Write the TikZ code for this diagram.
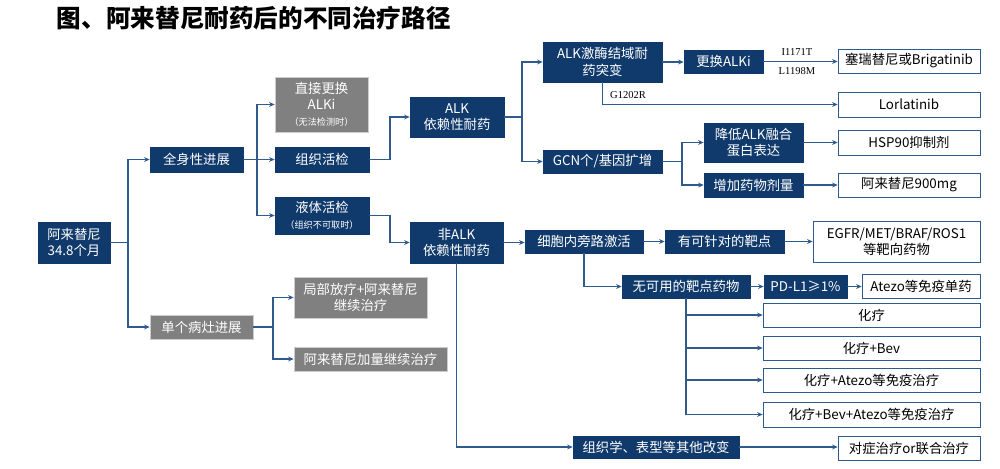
\documentclass[tikz,border=0pt]{standalone}
\usepackage{fontspec}
\setmainfont{Noto Sans CJK SC}
\newfontfamily\latinserif{Liberation Serif}
\usepackage{tikz}
\usetikzlibrary{positioning, arrows.meta, calc}
\usepackage{xcolor}
\definecolor{navy}{RGB}{16,58,107}
\definecolor{linkblue}{RGB}{46,90,140}
\definecolor{boxgrey}{RGB}{128,128,128}

\begin{document}
\begin{tikzpicture}[
    x=0.025cm, y=-0.025cm,
    wh/.style 2 args = {minimum width=#1*0.025cm, minimum height=#2*0.025cm},
    darkbox/.style   = {rectangle, draw=navy, fill=navy, text=white, align=center, inner sep=1pt,
                        font=\fontsize{9.5}{11.5}\selectfont},
    greybox/.style   = {rectangle, draw=black!20, fill=boxgrey, text=white, align=center, inner sep=1pt,
                        font=\fontsize{9.5}{11.5}\selectfont},
    outbox/.style    = {rectangle, draw=linkblue, fill=white, text=black, align=center, inner sep=1pt,
                        font=\fontsize{9.5}{11.5}\selectfont},
    mut/.style       = {inner sep=0pt, font=\latinserif\fontsize{7.5}{8}\selectfont},
    arrow/.style     = {-{Stealth[length=1.4mm, width=1.2mm]}, draw=linkblue, line width=0.9pt}
]
\useasboundingbox (0,0) rectangle (1000,468);
\node[anchor=west, font=\fontsize{17.5}{20}\selectfont\bfseries] (title) at (52,18) {图、阿来替尼耐药后的不同治疗路径};

% first levels
\node[darkbox, wh={72}{41}]  (root) at (74,242.5)   {阿来替尼\\34.8个月};
\node[darkbox, wh={93}{25}]  (qsx)  at (196.5,159.5) {全身性进展};
\node[greybox, wh={103}{24}] (dgjz) at (201.5,327)   {单个病灶进展};
\node[greybox, wh={93}{55}]  (zjgh) at (321.5,104.5) {直接更换\\ALKi\\{\fontsize{6.5}{8}\selectfont（无法检测时）}};
\node[darkbox, wh={94}{25}]  (zzhj) at (322,159.5)   {组织活检};
\node[darkbox, wh={94}{37}]  (ythj) at (322,215.5)   {液体活检\\{\fontsize{6.5}{8}\selectfont（组织不可取时）}};
\node[greybox, wh={133}{41}] (jbfl) at (360.5,297.5) {局部放疗+阿来替尼\\继续治疗};
\node[greybox, wh={153}{24}] (alzl) at (370.5,359)   {阿来替尼加量继续治疗};
\node[darkbox, wh={94}{40}]  (alk)  at (457,117)     {ALK\\依赖性耐药};
\node[darkbox, wh={93}{41}]  (nalk) at (456.5,242.5) {非ALK\\依赖性耐药};

% ALK dependent
\node[darkbox, wh={119}{40}] (jmtb)   at (602.5,62)   {ALK激酶结域耐\\药突变};
\node[darkbox, wh={79}{23}]  (ghalki) at (723.5,61.5) {更换ALKi};
\node[outbox, wh={142}{24}]  (srtn)   at (909,61)     {塞瑞替尼或Brigatinib};
\node[outbox, wh={142}{25}]  (lorl)   at (909,104.5)  {Lorlatinib};
\node[darkbox, wh={119}{23}] (gcn)    at (602.5,161.5) {GCN个/基因扩增};
\node[darkbox, wh={99}{39}]  (jdalk)  at (753.5,142.5) {降低ALK融合\\蛋白表达};
\node[darkbox, wh={99}{24}]  (zjyw)   at (753.5,185)  {增加药物剂量};
\node[outbox, wh={142}{25}]  (hsp)    at (909,142.5)  {HSP90抑制剂};
\node[outbox, wh={142}{24}]  (al900)  at (909,185)    {阿来替尼900mg};

% non ALK dependent
\node[darkbox, wh={118}{23}] (xbn)     at (584,241.5)   {细胞内旁路激活};
\node[darkbox, wh={119}{23}] (ykzd)    at (724.5,241.5) {有可针对的靶点};
\node[outbox, wh={167}{41}]  (egfr)    at (896.5,241.5) {EGFR/MET/BRAF/ROS1\\等靶向药物};
\node[darkbox, wh={128}{23}] (wky)     at (686,286.5)   {无可用的靶点药物};
\node[darkbox, wh={83}{23}]  (pdl1)    at (805.5,286.5) {PD-L1≥1\%};
\node[outbox, wh={118}{24}]  (atezo)   at (921,286)     {Atezo等免疫单药};
\node[outbox, wh={217}{24}]  (hl)      at (871.5,315)   {化疗};
\node[outbox, wh={217}{24}]  (hlbev)   at (871.5,348)   {化疗+Bev};
\node[outbox, wh={217}{24}]  (hlatezo) at (871.5,380)   {化疗+Atezo等免疫治疗};
\node[outbox, wh={217}{25}]  (hlba)    at (871.5,414.5) {化疗+Bev+Atezo等免疫治疗};
\node[darkbox, wh={166}{22}] (zzx)     at (656,447)     {组织学、表型等其他改变};
\node[outbox, wh={142}{24}]  (dzzl)    at (909,448)     {对症治疗or联合治疗};

% mutation labels
\node[mut] (i1171) at (797,52)  {I1171T};
\node[mut] (l1198) at (797,71)  {L1198M};
\node[mut] (g1202) at (628,95)  {G1202R};

% junctions
\coordinate (j1) at (128,0);
\coordinate (j2) at (257,0);
\coordinate (j3) at (390,0);
\coordinate (j4) at (273,0);
\coordinate (j5) at (522,0);
\coordinate (j7) at (682,0);

\foreach \a/\j/\b in {root/j1/qsx, root/j1/dgjz, qsx/j2/zjgh, qsx/j2/zzhj, qsx/j2/ythj,
                      zzhj/j3/alk, ythj/j3/nalk, dgjz/j4/jbfl, dgjz/j4/alzl,
                      alk/j5/jmtb, alk/j5/gcn, gcn/j7/jdalk, gcn/j7/zjyw}
  \draw[arrow] (\a.east) -- (\a.east -| \j) |- (\b.west);
\foreach \a/\b in {jmtb/ghalki, ghalki/srtn, jdalk/hsp, zjyw/al900, nalk/xbn,
                   xbn/ykzd, ykzd/egfr, wky/pdl1, pdl1/atezo, zzx/dzzl}
  \draw[arrow] (\a.east) -- (\a.east -| \b.west);
\foreach \a/\b in {jmtb/lorl, xbn/wky, wky/hl, wky/hlbev, wky/hlatezo, wky/hlba, nalk/zzx}
  \draw[arrow] (\a.south) |- (\b.west);
\end{tikzpicture}
\end{document}
